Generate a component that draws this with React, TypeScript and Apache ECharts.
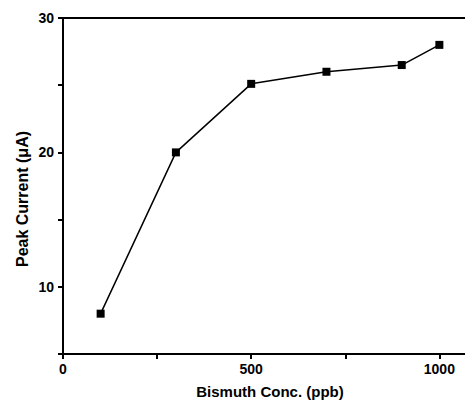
import React, { useEffect, useRef } from "react";
import * as echarts from "echarts";

const concentrations = [100, 300, 500, 700, 900, 1000];
const peakCurrents = [8, 20, 25.1, 26, 26.5, 28];
const xLabels = [0, 500, 1000];
const yLabels = [10, 20, 30];
const xName = "Bismuth Conc. (ppb)";
const yName = "Peak Current (μA)";

export default function App() {
  const ref = useRef<HTMLDivElement>(null);
  useEffect(() => {
    if (!ref.current) return;
    const chart = echarts.init(ref.current, null, { renderer: "svg" });
    const font = "Liberation Sans, Arial, sans-serif";
    chart.setOption({
      animation: false,
      backgroundColor: "#ffffff",
      grid: {
        left: 63,
        right: -12,
        top: 18,
        bottom: 51,
        show: true,
        borderColor: "#000",
        borderWidth: 2,
        containLabel: false,
        outerBoundsMode: "none",
      },
      xAxis: {
        type: "value",
        min: 0,
        max: 1100,
        interval: 250,
        splitLine: { show: false },
        axisLine: { lineStyle: { color: "#000", width: 2 } },
        axisTick: { show: true, length: 5, lineStyle: { color: "#000", width: 2 } },
        axisLabel: {
          color: "#000",
          fontFamily: font,
          fontWeight: "bold",
          fontSize: 14,
          margin: 8,
          formatter: (v: number) => (xLabels.includes(v) ? String(v) : ""),
        },
      },
      yAxis: {
        type: "value",
        min: 5,
        max: 30,
        interval: 5,
        splitLine: { show: false },
        axisLine: { lineStyle: { color: "#000", width: 2 } },
        axisTick: { show: true, length: 5, lineStyle: { color: "#000", width: 2 } },
        axisLabel: {
          color: "#000",
          fontFamily: font,
          fontWeight: "bold",
          fontSize: 14,
          margin: 9,
          formatter: (v: number) => (yLabels.includes(v) ? String(v) : ""),
        },
      },
      graphic: [
        {
          type: "text",
          x: 270,
          y: 391,
          style: {
            text: xName,
            fill: "#000",
            font: `bold 15px ${font}`,
            align: "center",
            verticalAlign: "middle",
          },
        },
        {
          type: "text",
          x: 22,
          y: 199,
          rotation: Math.PI / 2,
          style: {
            text: yName,
            fill: "#000",
            font: `bold 16px ${font}`,
            align: "center",
            verticalAlign: "middle",
          },
        },
      ],
      series: [
        {
          type: "line",
          data: concentrations.map((c, i) => [c, peakCurrents[i]]),
          symbol: "rect",
          symbolSize: 8,
          lineStyle: { color: "#000", width: 1.5 },
          itemStyle: { color: "#000" },
        },
      ],
    });
    return () => chart.dispose();
  }, []);
  return (
    <div
      ref={ref}
      style={{ position: "fixed", left: 0, top: 0, width: 465, height: 405 }}
    />
  );
}
